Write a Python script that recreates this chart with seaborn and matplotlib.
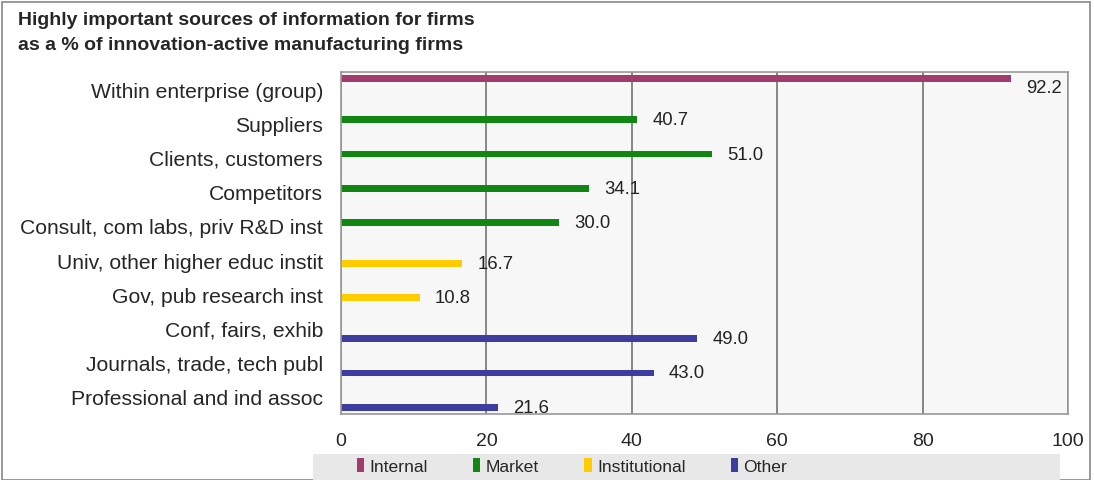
import pandas as pd
import matplotlib
matplotlib.use("Agg")
import matplotlib.pyplot as plt
import seaborn as sns
from matplotlib.patches import Patch, Rectangle

sources = ["Within enterprise (group)", "Suppliers", "Clients, customers", "Competitors",
           "Consult, com labs, priv R&D inst", "Univ, other higher educ instit",
           "Gov, pub research inst", "Conf, fairs, exhib", "Journals, trade, tech publ",
           "Professional and ind assoc"]
values = [92.2, 40.7, 51.0, 34.1, 30.0, 16.7, 10.8, 49.0, 43.0, 21.6]
groups = ["Internal", "Market", "Market", "Market", "Market",
          "Institutional", "Institutional", "Other", "Other", "Other"]
group_order = ["Internal", "Market", "Institutional", "Other"]
colors = ["#a03d6c", "#128612", "#ffcc00", "#3d3d9f"]

df = pd.DataFrame({"source": sources, "value": values, "group": groups})

sns.set_style("white")
plt.rcParams["font.family"] = ["Liberation Sans", "DejaVu Sans"]

fig = plt.figure(figsize=(10.94, 4.81), dpi=100)
ax = fig.add_axes([341 / 1094, 1 - 415 / 481, (1068 - 341) / 1094, (415 - 73) / 481])

sns.barplot(data=df, x="value", y="source", hue="group", hue_order=group_order,
            palette=colors, dodge=True, width=0.8, orient="h", ax=ax, legend=False,
            saturation=1, linewidth=0)

for i, cont in enumerate(ax.containers):
    anns = ax.bar_label(cont, fmt="%.1f", padding=11, fontsize=13.3, color="#222222")
    if i == 0:
        # top label sits a little lower in the original
        for a in anns:
            a.xyann = (11, -6)

ax.set_facecolor("#f7f7f7")
ax.set_xlim(0, 100)
ax.set_xticks([0, 20, 40, 60, 80, 100])
ax.set_xlabel("")
ax.set_ylabel("")
ax.grid(axis="x", color="#858585", linewidth=1.4)
ax.set_axisbelow(True)
for s in ax.spines.values():
    s.set_color("#999999")
    s.set_linewidth(1.2)

ax.tick_params(axis="y", which="major", length=0, pad=13, labelsize=15.2)
ax.set_yticks([i + 0.5 for i in range(-1, 10)], minor=True)
ax.tick_params(axis="y", which="minor", length=5, color="#999999", direction="out")
ax.tick_params(axis="x", length=5, color="#999999", direction="out", pad=8, labelsize=14)

fig.text(18 / 1094, 1 - 12 / 481, "Highly important sources of information for firms\n"
         "as a % of innovation-active manufacturing firms",
         ha="left", va="top", fontsize=14, fontweight="bold", linespacing=1.6)

# outer frame and legend band
fig.patches.append(Rectangle((2 / 1094, 0), 1088 / 1094, 1 - 3 / 481, transform=fig.transFigure,
                             fill=False, edgecolor="#888888", linewidth=1.2))
fig.patches.append(Rectangle((313 / 1094, 0), (1060 - 313) / 1094, 26 / 481,
                             transform=fig.transFigure, facecolor="#e8e8e8", edgecolor="none"))

handles = [Patch(facecolor=c, edgecolor="none", label=g) for g, c in zip(group_order, colors)]
fig.legend(handles=handles, loc="center", bbox_to_anchor=(572 / 1094, 1 - 467 / 481),
           ncol=4, frameon=False, handlelength=0.42, handleheight=0.8,
           handletextpad=0.3, columnspacing=2.6, fontsize=12.6)

fig.savefig("out.png", dpi=100)
